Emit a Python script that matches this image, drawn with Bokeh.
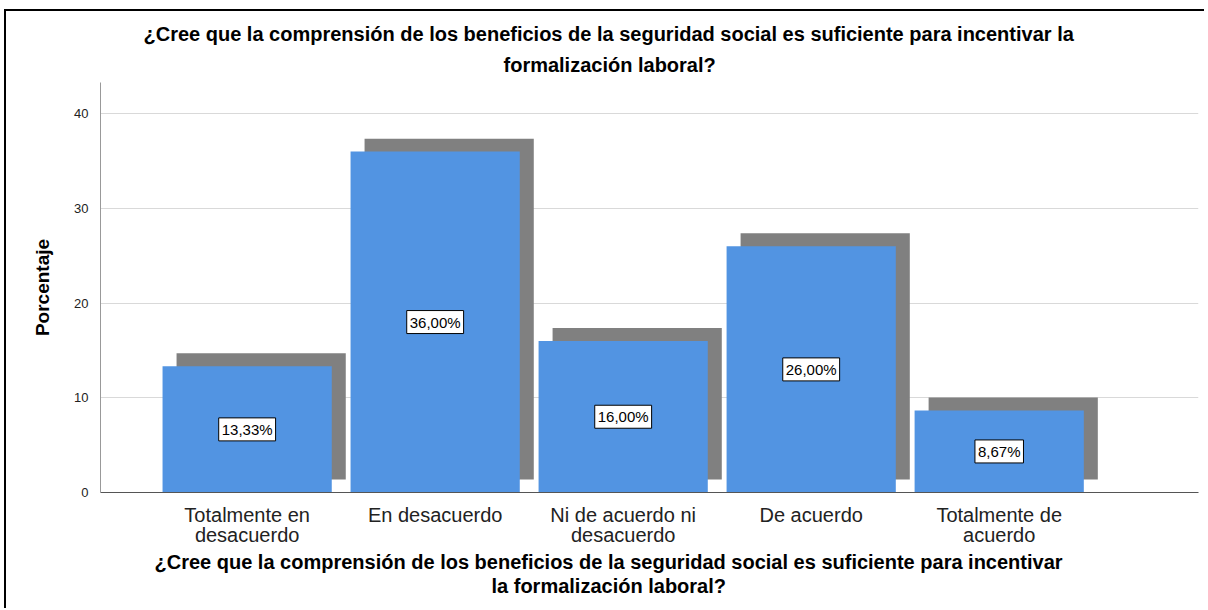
from bokeh.plotting import figure
from bokeh.models import ColumnDataSource, FixedTicker, Range1d, Title
from bokeh.core.properties import value
from bokeh.embed import file_html
from bokeh.resources import INLINE

categories = ["Totalmente en\ndesacuerdo", "En desacuerdo", "Ni de acuerdo ni\ndesacuerdo",
              "De acuerdo", "Totalmente de\nacuerdo"]
percentages = [13.33, 36.00, 16.00, 26.00, 8.67]
y_ticks = [0, 10, 20, 30, 40]
title_lines = ["¿Cree que la comprensión de los beneficios de la seguridad social es suficiente para incentivar la",
               "formalización laboral?"]
xlabel_lines = ["¿Cree que la comprensión de los beneficios de la seguridad social es suficiente para incentivar",
                "la formalización laboral?"]

positions = list(range(1, len(categories) + 1))
labels = [f"{v:.2f}".replace(".", ",") + "%" for v in percentages]

BAR_W = 0.9
SH_DX = 0.0745
SH_DY = 1.37

src = ColumnDataSource(dict(
    x=positions, top=percentages, label=labels,
    left=[x - BAR_W / 2 for x in positions],
    right=[x + BAR_W / 2 for x in positions],
    sl=[x - BAR_W / 2 + SH_DX for x in positions],
    sr=[x + BAR_W / 2 + SH_DX for x in positions],
    sb=[SH_DY] * len(positions),
    st=[v + SH_DY for v in percentages],
    ly=[v / 2 for v in percentages],
))

FONT = "Liberation Sans"
TITLE_PX = "20px"

p = figure(width=1200, height=599, output_backend="svg", toolbar_location=None,
           x_range=Range1d(0.22, 6.06), y_range=Range1d(0, 43.3),
           min_border_left=94, min_border_right=8, min_border_top=71, min_border_bottom=118,
           title=None)
p.margin = (9, 0, 0, 4)
p.styles = {"border-left": "2px solid black", "border-top": "2px solid black"}


def make_title(text, offset, standoff):
    # left-aligned with an offset so that each line is centred on the whole canvas
    return Title(text=text, align="left", offset=offset, text_font=FONT,
                 text_font_size=TITLE_PX, text_font_style="bold", text_color="black",
                 standoff=standoff)


# above: later additions sit farther from the frame
p.add_layout(make_title(title_lines[1], 403, 14), "above")
p.add_layout(make_title(title_lines[0], 43, 0), "above")
# below: first addition sits closest to the axis
p.add_layout(make_title(xlabel_lines[0], 54, 0), "below")
p.add_layout(make_title(xlabel_lines[1], 391, 0), "below")

p.outline_line_color = None
p.background_fill_color = "white"
p.border_fill_color = "white"

p.quad(left="sl", right="sr", bottom="sb", top="st", source=src,
       fill_color="#808080", line_color=None)
p.quad(left="left", right="right", bottom=0, top="top", source=src,
       fill_color="#5294e2", line_color=None)
p.text(x="x", y="ly", text="label", source=src, text_align="center", text_baseline="middle",
       text_font=value(FONT), text_font_size="15px", text_color="black",
       background_fill_color="white", border_line_color="black", border_line_width=1,
       padding=3)

p.xgrid.grid_line_color = None
p.ygrid.grid_line_color = "#d9d9d9"
p.ygrid.ticker = FixedTicker(ticks=y_ticks)

p.xaxis.ticker = FixedTicker(ticks=positions)
p.xaxis.major_label_overrides = {x: c for x, c in zip(positions, categories)}
p.xaxis.major_label_text_font = FONT
p.xaxis.major_label_text_font_size = "20px"
p.xaxis.major_label_text_line_height = 0.92
p.xaxis.major_label_text_color = "#222222"
p.xaxis.major_label_standoff = 5
p.xaxis.major_tick_line_color = None
p.xaxis.minor_tick_line_color = None
p.xaxis.axis_line_color = "#555555"

p.yaxis.ticker = FixedTicker(ticks=y_ticks)
p.yaxis.major_label_text_font = FONT
p.yaxis.major_label_text_font_size = "13px"
p.yaxis.major_label_text_color = "#222222"
p.yaxis.major_label_standoff = 6
p.yaxis.major_tick_line_color = None
p.yaxis.minor_tick_line_color = None
p.yaxis.axis_line_color = "#999999"
p.yaxis.axis_label = "Porcentaje"
p.yaxis.axis_label_text_font = FONT
p.yaxis.axis_label_text_font_size = "19px"
p.yaxis.axis_label_text_font_style = "bold"
p.yaxis.axis_label_text_color = "black"
p.yaxis.axis_label_standoff = 18

open("out.html", "w").write(file_html(p, INLINE))
